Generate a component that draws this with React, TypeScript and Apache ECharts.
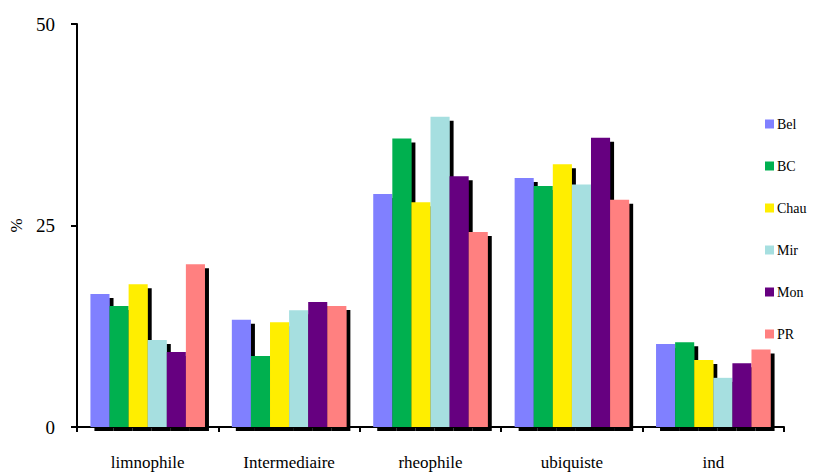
import React, { useEffect, useRef } from "react";
import * as echarts from "echarts";

const categories = ["limnophile", "Intermediaire", "rheophile", "ubiquiste", "ind"];
const seriesNames = ["Bel", "BC", "Chau", "Mir", "Mon", "PR"];
const belValues = [16.5, 13.3, 28.9, 30.9, 10.3];
const bcValues = [15.0, 8.8, 35.8, 29.9, 10.5];
const chauValues = [17.7, 13.0, 27.9, 32.6, 8.3];
const mirValues = [10.8, 14.5, 38.5, 30.1, 6.1];
const monValues = [9.3, 15.5, 31.1, 35.9, 7.9];
const prValues = [20.2, 15.0, 24.2, 28.2, 9.6];
const colors = ["#8080ff", "#00b050", "#ffee00", "#a6dfe0", "#660080", "#ff8080"];
const yTicks = [0, 25, 50];

export default function App() {
  const ref = useRef<HTMLDivElement>(null);
  useEffect(() => {
    if (!ref.current) return;
    const chart = echarts.init(ref.current, null, { renderer: "svg" });
    const allValues = [belValues, bcValues, chauValues, mirValues, monValues, prValues];
    const font = "Liberation Serif";
    chart.setOption({
      animation: false,
      textStyle: { fontFamily: font },
      grid: { left: 77, right: 30, top: 24, bottom: 46 },
      legend: {
        orient: "vertical",
        left: 760,
        top: 112,
        itemWidth: 9,
        itemHeight: 9,
        itemGap: 28,
        icon: "rect",
        textStyle: { fontFamily: font, fontSize: 14, color: "#000", padding: [0, 0, 0, -2] },
        data: seriesNames,
      },
      xAxis: {
        type: "category",
        data: categories,
        axisLine: { lineStyle: { color: "#000", width: 2 } },
        axisTick: { show: true, length: 5, lineStyle: { color: "#000", width: 2 } },
        axisLabel: { fontFamily: font, fontSize: 17, color: "#000", margin: 27 },
      },
      yAxis: {
        type: "value",
        min: yTicks[0],
        max: yTicks[2],
        interval: 25,
        name: "%",
        nameLocation: "middle",
        nameRotate: 90,
        nameGap: 51,
        nameTextStyle: { fontFamily: font, fontSize: 17, color: "#000" },
        axisLine: { show: true, lineStyle: { color: "#000", width: 2 } },
        axisTick: { show: true, length: 6, lineStyle: { color: "#000", width: 2 } },
        axisLabel: { fontFamily: font, fontSize: 19, color: "#000", margin: 22 },
        splitLine: { show: false },
      },
      series: seriesNames.map((name, i) => ({
        name,
        type: "bar",
        data: allValues[i],
        barGap: "0%",
        barCategoryGap: "19%",
        itemStyle: {
          color: colors[i],
          shadowColor: "#000",
          shadowOffsetX: 4,
          shadowOffsetY: 4,
          shadowBlur: 0.5,
        },
      })),
    });
    return () => chart.dispose();
  }, []);
  return (
    <div
      ref={ref}
      style={{ position: "absolute", left: 0, top: 0, width: 814, height: 473 }}
    />
  );
}
